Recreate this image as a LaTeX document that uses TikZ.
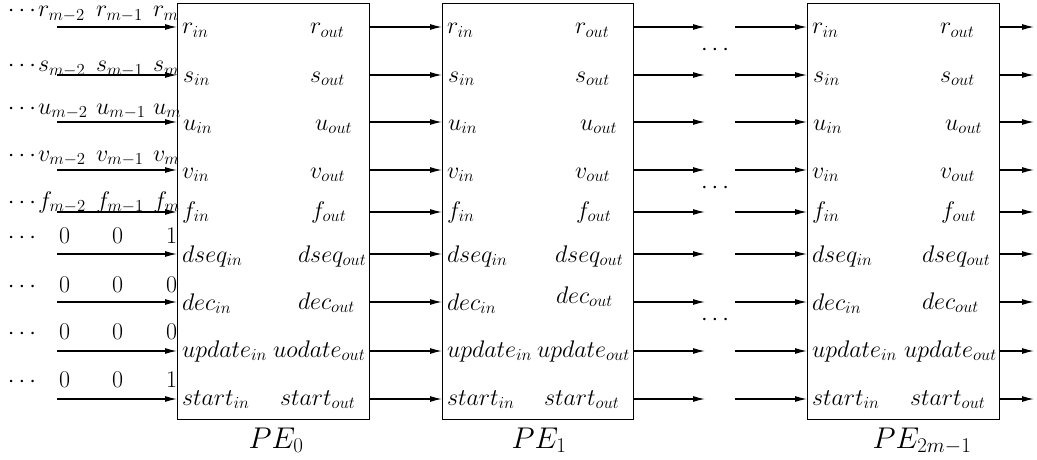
\documentclass[tikz,border=0pt]{standalone}
\usepackage{fix-cm}
\usetikzlibrary{arrows.meta}
\newcommand{\lo}[1]{_{\hbox{\fontsize{16.8}{18}\selectfont$#1$}}}
\newcommand{\lop}[1]{_{\hbox{\fontsize{21}{23}\selectfont$#1$}}}
\newcommand{\wx}[1]{{\fontsize{24}{28}\selectfont$#1$}}
\newcommand{\wpe}[1]{{\fontsize{30}{34}\selectfont$#1$}}
\begin{document}
\begin{tikzpicture}[x=1pt,y=-1pt,
  pebox/.style={draw,line width=1.1pt},
  sig/.style={line width=1.2pt,-{Latex[length=12pt,width=6pt]}},
  lab/.style={anchor=base west,inner sep=0pt,outer sep=0pt},
  pelab/.style={anchor=base,inner sep=0pt}]
\useasboundingbox (0,0) rectangle (1037,460);
% boxes
\node[pebox,minimum width=192pt,minimum height=416pt,anchor=north west,inner sep=0pt] (pe0) at (177,3) {};
\node[pebox,minimum width=191pt,minimum height=416pt,anchor=north west,inner sep=0pt] (pe1) at (442,3) {};
\node[pebox,minimum width=192pt,minimum height=416pt,anchor=north west,inner sep=0pt] (pen) at (807,3) {};
\node[pelab] (pe0l) at (276,448) {\wpe{PE\lop{0}}};
\node[pelab] (pe1l) at (539,448) {\wpe{PE\lop{1}}};
\node[pelab] (penl) at (922,448) {\wpe{PE\lop{2m{-}1}}};
% rows
\foreach \n/\y in {r/27,s/75,u/122,v/170,f/212,dseq/254,dec/302,upd/351,start/399}{
  \coordinate (a\n) at (57,\y);
  \coordinate (b\n) at (705,\y);
  \coordinate (c\n) at (735,\y);
  \coordinate (d\n) at (1034,\y);
  \draw[sig] (a\n) -- (pe0.west |- a\n);
  \draw[sig] (pe0.east |- a\n) -- (pe1.west |- a\n);
  \draw[sig] (pe1.east |- a\n) -- (b\n);
  \draw[sig] (c\n) -- (pen.west |- a\n);
  \draw[sig] (pen.east |- a\n) -- (d\n);
}
% dots between
\node (g1) at (715,50) {\wx{\cdots}};
\node (g2) at (715,188) {\wx{\cdots}};
\node (g3) at (715,320) {\wx{\cdots}};
% input labels
\foreach \c/\yb in {r/17,s/72,u/114,v/161,f/208}{
  \node[lab] (i\c0) at (8,\yb) {\wx{\cdots}};
  \node[lab] (i\c1) at (38,\yb) {\wx{\c\lo{m{-}2}}};
  \node[lab] (i\c2) at (96,\yb) {\wx{\c\lo{m{-}1}}};
  \node[lab] (i\c3) at (153,\yb) {\wx{\c\lo{m}}};
}
\foreach \k/\yb/\la/\lb/\lc in {dseq/243/0/0/1,dec/292/0/0/0,upd/339/0/0/0,start/387/0/0/1}{
  \node[lab] (i\k0) at (8,\yb) {\wx{\cdots}};
  \node[lab] (i\k1) at (59,\yb) {\wx{\mathrm{\la}}};
  \node[lab] (i\k2) at (112,\yb) {\wx{\mathrm{\lb}}};
  \node[lab] (i\k3) at (166,\yb) {\wx{\mathrm{\lc}}};
}
% in labels
\foreach \b/\ox in {pe0/177,pe1/442,pen/807}{
  \node[lab] at (\ox+5,34) {\wx{r\lo{in}}};
  \node[lab] at (\ox+6,82) {\wx{s\lo{in}}};
  \node[lab] at (\ox+6,130) {\wx{u\lo{in}}};
  \node[lab] at (\ox+5,178) {\wx{v\lo{in}}};
  \node[lab] at (\ox+5,218) {\wx{f\lo{in}}};
  \node[lab] at (\ox+5,262) {\wx{dseq\lo{in}}};
  \node[lab] at (\ox+5,310) {\wx{dec\lo{in}}};
  \node[lab] at (\ox+5,357) {\wx{update\lo{in}}};
  \node[lab] at (\ox+5,405) {\wx{start\lo{in}}};
  \node[lab] at (\ox+133,34) {\wx{r\lo{out}}};
  \node[lab] at (\ox+133,82) {\wx{s\lo{out}}};
  \node[lab] at (\ox+138,130) {\wx{u\lo{out}}};
  \node[lab] at (\ox+133,178) {\wx{v\lo{out}}};
  \node[lab] at (\ox+134,218) {\wx{f\lo{out}}};
}
% out labels that differ
\node[lab] at (298,262) {\wx{dseq\lo{out}}};
\node[lab] at (298,309) {\wx{dec\lo{out}}};
\node[lab] at (273,357) {\wx{uodate\lo{out}}};
\node[lab] at (280,405) {\wx{start\lo{out}}};
\node[lab] at (555,262) {\wx{dseq\lo{out}}};
\node[lab] at (556,303) {\wx{dec\lo{out}}};
\node[lab] at (537,357) {\wx{update\lo{out}}};
\node[lab] at (544,405) {\wx{start\lo{out}}};
\node[lab] at (922,262) {\wx{dseq\lo{out}}};
\node[lab] at (922,309) {\wx{dec\lo{out}}};
\node[lab] at (904,357) {\wx{update\lo{out}}};
\node[lab] at (910,405) {\wx{start\lo{out}}};
\end{tikzpicture}
\end{document}
